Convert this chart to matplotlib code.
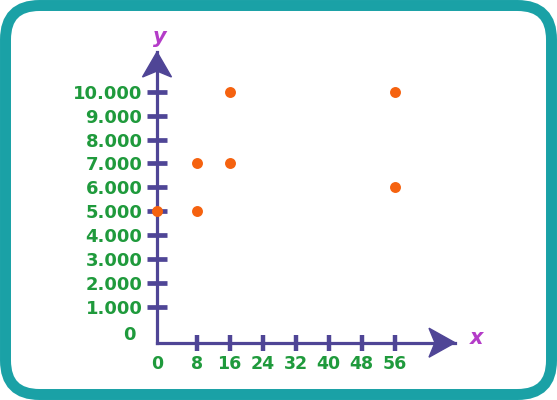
import numpy as np
import matplotlib.pyplot as plt
import matplotlib.transforms as mtrans
from matplotlib.patches import FancyBboxPatch, Polygon

### Data
x_vals = [0, 8, 8, 16, 16, 56, 56]
y_vals = [5000, 5000, 7000, 7000, 10000, 10000, 6000]
x_ticks = [0, 8, 16, 24, 32, 40, 48, 56]
y_ticks = [0, 1000, 2000, 3000, 4000, 5000, 6000, 7000, 8000, 9000, 10000]
y_labels = ['', '1.000', '2.000', '3.000', '4.000', '5.000',
            '6.000', '7.000', '8.000', '9.000', '10.000']

purple = '#4f4596'
green = '#1f9a3c'
magenta = '#b43cc8'
orange = '#f5620f'
teal = '#1aa1a6'

plt.rcParams['font.family'] = 'DejaVu Sans'
plt.rcParams['font.weight'] = 'bold'

# first step from origin is wider than the rest
def fx(v):
	v = np.asarray(v, dtype=float)
	return np.where(v < 8, v * 1.2 / 8, 1.2 + (v - 8) / 8)

def fx_inv(u):
	u = np.asarray(u, dtype=float)
	return np.where(u < 1.2, u * 8 / 1.2, 8 + (u - 1.2) * 8)

def fy(v):
	v = np.asarray(v, dtype=float)
	return np.where(v < 1000, v * 1.48 / 1000, 1.48 + (v - 1000) / 1000)

def fy_inv(u):
	u = np.asarray(u, dtype=float)
	return np.where(u < 1.48, u * 1000 / 1.48, 1000 + (u - 1.48) * 1000)

fig = plt.figure(figsize=(5.57, 4), dpi=100)
ax = fig.add_axes([157/557, (400-342.7)/400, 298/557, 290.7/400])

ax.set_xscale('function', functions=(fx, fx_inv))
ax.set_yscale('function', functions=(fy, fy_inv))
ax.set_xlim(0, float(fx_inv(298/33.0)))
ax.set_ylim(0, float(fy_inv(290.7/23.96)))

ax.scatter(x_vals, y_vals, s=62, color=orange, zorder=5, clip_on=False, linewidths=0)

for s in ['top', 'right']:
	ax.spines[s].set_visible(False)
for s in ['left', 'bottom']:
	ax.spines[s].set_color(purple)
	ax.spines[s].set_linewidth(2.3)

ax.set_xticks(x_ticks, [str(t) for t in x_ticks])
ax.set_yticks(y_ticks, y_labels)
ax.minorticks_off()
ax.tick_params(axis='x', direction='inout', length=12, width=3.2, color=purple,
               labelcolor=green, labelsize=12.5, pad=3)
ax.tick_params(axis='y', direction='inout', length=15, width=3.4, color=purple,
               labelcolor=green, labelsize=13, pad=3)
ax.xaxis.get_major_ticks()[0].tick1line.set_visible(False)
ax.yaxis.get_major_ticks()[0].tick1line.set_visible(False)

ax.annotate('0', xy=(0, 0), xycoords='data', xytext=(-21, 8), textcoords='offset pixels',
            ha='right', va='center', color=green, fontsize=13, fontweight='bold')

# arrow heads
tx = fig.dpi_scale_trans + mtrans.ScaledTranslation(1, 0, ax.transAxes)
ax.add_artist(Polygon([(0, 0), (-0.26, 0.145), (-0.20, 0), (-0.26, -0.145)],
                      closed=True, color=purple, transform=tx, clip_on=False, zorder=4))
ty = fig.dpi_scale_trans + mtrans.ScaledTranslation(0, 1, ax.transAxes)
ax.add_artist(Polygon([(0, 0), (0.145, -0.25), (0, -0.19), (-0.145, -0.25)],
                      closed=True, color=purple, transform=ty, clip_on=False, zorder=4))

ax.annotate('x', xy=(1, 0), xycoords='axes fraction', xytext=(22, 5), textcoords='offset pixels',
            ha='center', va='center', color=magenta, fontsize=15, fontstyle='italic', fontweight='bold')
ax.annotate('y', xy=(0, 1), xycoords='axes fraction', xytext=(3, 15), textcoords='offset pixels',
            ha='center', va='center', color=magenta, fontsize=15, fontstyle='italic', fontweight='bold')

# rounded frame
frame = FancyBboxPatch((0.055, 0.055), 5.46, 3.89, boxstyle='round,pad=0,rounding_size=0.34',
                       transform=fig.dpi_scale_trans, fill=False, ec=teal, lw=7.9)
fig.add_artist(frame)

plt.savefig('out.png', dpi=100)
